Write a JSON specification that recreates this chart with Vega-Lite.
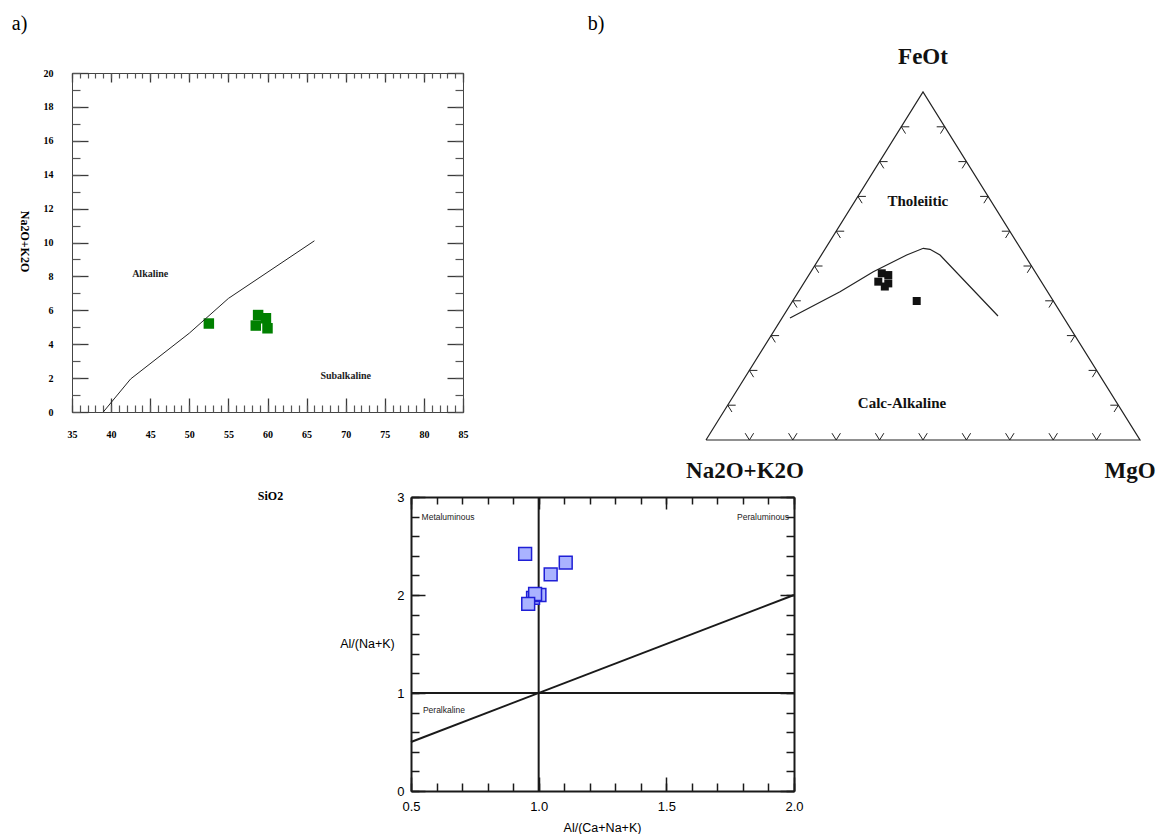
{
  "$schema": "https://vega.github.io/schema/vega-lite/v6.json",
  "width": 1162,
  "height": 834,
  "autosize": {"type": "none"},
  "padding": 0,
  "background": "white",
  "config": {"view": {"stroke": null}, "axis": {"grid": false}},
  "datasets": {
    "tasPoints": [
      {"SiO2": 52.5, "alkali": 5.22},
      {"SiO2": 58.8, "alkali": 5.72},
      {"SiO2": 59.8, "alkali": 5.53},
      {"SiO2": 58.5, "alkali": 5.1},
      {"SiO2": 60.0, "alkali": 4.94}
    ],
    "tasLine": [
      {"i": 0, "SiO2": 39.0, "alkali": 0.0},
      {"i": 1, "SiO2": 42.5, "alkali": 1.95},
      {"i": 2, "SiO2": 50.0, "alkali": 4.65},
      {"i": 3, "SiO2": 55.0, "alkali": 6.7},
      {"i": 4, "SiO2": 66.0, "alkali": 10.1}
    ],
    "tasAlkaline": [{"SiO2": 45.0, "alkali": 8.15, "label": "Alkaline"}],
    "tasSubalkaline": [{"SiO2": 70.0, "alkali": 2.1, "label": "Subalkaline"}],
    "panelA": [{"SiO2": 28.3, "alkali": 22.9, "label": "a)"}],
    "afmTriangle": [
      {"i": 0, "x": 0, "y": 0},
      {"i": 1, "x": 1, "y": 0},
      {"i": 2, "x": 0.5, "y": 1},
      {"i": 3, "x": 0, "y": 0}
    ],
    "afmCurve": [
      {"i": 0, "x": 0.1935, "y": 0.3506},
      {"i": 1, "x": 0.3088, "y": 0.4261},
      {"i": 2, "x": 0.3855, "y": 0.4836},
      {"i": 3, "x": 0.4624, "y": 0.5316},
      {"i": 4, "x": 0.5007, "y": 0.5509},
      {"i": 5, "x": 0.5161, "y": 0.548},
      {"i": 6, "x": 0.5392, "y": 0.5316},
      {"i": 7, "x": 0.6728, "y": 0.3563}
    ],
    "afmTicks": [
      {"x": 0.1, "y": 0, "side": "base"},
      {"x": 0.2, "y": 0, "side": "base"},
      {"x": 0.3, "y": 0, "side": "base"},
      {"x": 0.4, "y": 0, "side": "base"},
      {"x": 0.5, "y": 0, "side": "base"},
      {"x": 0.6, "y": 0, "side": "base"},
      {"x": 0.7, "y": 0, "side": "base"},
      {"x": 0.8, "y": 0, "side": "base"},
      {"x": 0.9, "y": 0, "side": "base"},
      {"x": 0.05, "y": 0.1, "side": "left"},
      {"x": 0.1, "y": 0.2, "side": "left"},
      {"x": 0.15, "y": 0.3, "side": "left"},
      {"x": 0.2, "y": 0.4, "side": "left"},
      {"x": 0.25, "y": 0.5, "side": "left"},
      {"x": 0.3, "y": 0.6, "side": "left"},
      {"x": 0.35, "y": 0.7, "side": "left"},
      {"x": 0.4, "y": 0.8, "side": "left"},
      {"x": 0.45, "y": 0.9, "side": "left"},
      {"x": 0.95, "y": 0.1, "side": "right"},
      {"x": 0.9, "y": 0.2, "side": "right"},
      {"x": 0.85, "y": 0.3, "side": "right"},
      {"x": 0.8, "y": 0.4, "side": "right"},
      {"x": 0.75, "y": 0.5, "side": "right"},
      {"x": 0.7, "y": 0.6, "side": "right"},
      {"x": 0.65, "y": 0.7, "side": "right"},
      {"x": 0.6, "y": 0.8, "side": "right"},
      {"x": 0.55, "y": 0.9, "side": "right"}
    ],
    "afmPoints": [
      {"x": 0.405, "y": 0.479},
      {"x": 0.42, "y": 0.474},
      {"x": 0.397, "y": 0.455},
      {"x": 0.42, "y": 0.45},
      {"x": 0.412, "y": 0.441},
      {"x": 0.4855, "y": 0.3994}
    ],
    "afmCorners": [
      {"x": 0.5, "y": 1.1, "label": "FeOt"},
      {"x": 0.09, "y": -0.089, "label": "Na2O+K2O"},
      {"x": 0.977, "y": -0.089, "label": "MgO"}
    ],
    "afmFields": [
      {"x": 0.488, "y": 0.687, "label": "Tholeiitic"},
      {"x": 0.4516, "y": 0.107, "label": "Calc-Alkaline"}
    ],
    "panelB": [{"x": -0.2535, "y": 1.195, "label": "b)"}],
    "shandPoints": [
      {"ACNK": 0.947, "ANK": 2.42},
      {"ACNK": 1.106, "ANK": 2.33},
      {"ACNK": 1.047, "ANK": 2.21},
      {"ACNK": 0.978, "ANK": 1.97},
      {"ACNK": 1.003, "ANK": 2.0},
      {"ACNK": 0.986, "ANK": 2.01},
      {"ACNK": 0.959, "ANK": 1.91}
    ],
    "shandLines": [
      {"x1": 1.0, "x2": 1.0, "y1": 0, "y2": 3},
      {"x1": 0.5, "x2": 2.0, "y1": 1, "y2": 1},
      {"x1": 0.5, "x2": 2.0, "y1": 0.5, "y2": 2.0}
    ],
    "shandMeta": [{"ACNK": 0.645, "ANK": 2.8, "label": "Metaluminous"}],
    "shandPera": [{"ACNK": 1.879, "ANK": 2.8, "label": "Peraluminous"}],
    "shandPerk": [{"ACNK": 0.629, "ANK": 0.83, "label": "Peralkaline"}]
  },
  "resolve": {
    "scale": {"x": "independent", "y": "independent", "shape": "independent"},
    "axis": {"x": "independent", "y": "independent"}
  },
  "layer": [
    {
      "data": {"name": "tasPoints"},
      "mark": {"type": "point", "shape": "square", "filled": true, "color": "#008000", "size": 110, "opacity": 1},
      "encoding": {
        "x": {
          "field": "SiO2", "type": "quantitative",
          "scale": {"domain": [35, 85], "range": [72, 463], "nice": false, "zero": false},
          "axis": {
            "orient": "bottom", "offset": -422, "values": [35, 40, 45, 50, 55, 60, 65, 70, 75, 80, 85],
            "ticks": false, "domain": true, "domainColor": "#444", "domainWidth": 1,
            "labelFont": "Liberation Serif", "labelFontWeight": "bold", "labelFontSize": 10, "labelColor": "#000",
            "labelPadding": 17, "labelFlush": false, "labelOverlap": false,
            "title": "SiO2", "titleFont": "Liberation Serif", "titleFontWeight": "bold", "titleFontSize": 12, "titleColor": "#000",
            "titleX": 270, "titleY": 83, "titleAlign": "center", "titleBaseline": "middle"
          }
        },
        "y": {
          "field": "alkali", "type": "quantitative",
          "scale": {"domain": [0, 20], "range": [412, 73], "nice": false, "zero": false},
          "axis": {
            "orient": "left", "offset": -72, "values": [0, 2, 4, 6, 8, 10, 12, 14, 16, 18, 20],
            "ticks": false, "domain": true, "domainColor": "#444", "domainWidth": 1,
            "labelFont": "Liberation Serif", "labelFontWeight": "bold", "labelFontSize": 10, "labelColor": "#000",
            "labelPadding": 19, "labelFlush": false, "labelOverlap": false,
            "title": "Na2O+K2O", "titleFont": "Liberation Serif", "titleFontWeight": "bold", "titleFontSize": 12, "titleColor": "#000",
            "titleAngle": 90, "titleX": -48, "titleY": 241, "titleAlign": "center", "titleBaseline": "middle"
          }
        }
      }
    },
    {
      "data": {"name": "tasLine"},
      "mark": {"type": "line", "color": "#222", "strokeWidth": 1},
      "encoding": {
        "x": {
          "field": "SiO2", "type": "quantitative",
          "scale": {"domain": [35, 85], "range": [72, 463], "nice": false, "zero": false},
          "axis": {
            "orient": "top", "offset": -412, "values": [35, 40, 45, 50, 55, 60, 65, 70, 75, 80, 85],
            "labels": false, "domain": false, "title": null, "tickColor": "#3a3a3a", "tickWidth": 1.3, "tickSize": 14
          }
        },
        "y": {
          "field": "alkali", "type": "quantitative",
          "scale": {"domain": [0, 20], "range": [412, 73], "nice": false, "zero": false},
          "axis": {
            "orient": "right", "offset": -1090, "values": [0, 2, 4, 6, 8, 10, 12, 14, 16, 18, 20],
            "labels": false, "domain": false, "title": null, "tickColor": "#3a3a3a", "tickWidth": 1.3, "tickSize": 16
          }
        },
        "order": {"field": "i", "type": "quantitative"}
      }
    },
    {
      "data": {"name": "tasAlkaline"},
      "mark": {"type": "text", "font": "Liberation Serif", "fontWeight": "bold", "fontSize": 10, "color": "#222"},
      "encoding": {
        "x": {
          "field": "SiO2", "type": "quantitative",
          "scale": {"domain": [35, 85], "range": [72, 463], "nice": false, "zero": false},
          "axis": {
            "orient": "top", "offset": -412,
            "values": [35,36,37,38,39,40,41,42,43,44,45,46,47,48,49,50,51,52,53,54,55,56,57,58,59,60,61,62,63,64,65,66,67,68,69,70,71,72,73,74,75,76,77,78,79,80,81,82,83,84,85],
            "labels": false, "domain": false, "title": null, "tickColor": "#555", "tickWidth": 1.2, "tickSize": 7
          }
        },
        "y": {
          "field": "alkali", "type": "quantitative",
          "scale": {"domain": [0, 20], "range": [412, 73], "nice": false, "zero": false},
          "axis": {
            "orient": "right", "offset": -1090,
            "values": [0,1,2,3,4,5,6,7,8,9,10,11,12,13,14,15,16,17,18,19,20],
            "labels": false, "domain": false, "title": null, "tickColor": "#555", "tickWidth": 1.2, "tickSize": 8
          }
        },
        "text": {"field": "label", "type": "nominal"}
      }
    },
    {
      "data": {"name": "tasSubalkaline"},
      "mark": {"type": "text", "font": "Liberation Serif", "fontWeight": "bold", "fontSize": 10, "color": "#222"},
      "encoding": {
        "x": {
          "field": "SiO2", "type": "quantitative",
          "scale": {"domain": [35, 85], "range": [72, 463], "nice": false, "zero": false},
          "axis": {
            "orient": "bottom", "offset": -761, "values": [35, 40, 45, 50, 55, 60, 65, 70, 75, 80, 85],
            "labels": false, "domain": true, "domainColor": "#444", "domainWidth": 1, "title": null, "tickColor": "#3a3a3a", "tickWidth": 1.3, "tickSize": 9
          }
        },
        "y": {
          "field": "alkali", "type": "quantitative",
          "scale": {"domain": [0, 20], "range": [412, 73], "nice": false, "zero": false},
          "axis": {
            "orient": "left", "offset": -463, "values": [0, 2, 4, 6, 8, 10, 12, 14, 16, 18, 20],
            "labels": false, "domain": true, "domainColor": "#444", "domainWidth": 1, "title": null, "tickColor": "#3a3a3a", "tickWidth": 1.3, "tickSize": 16
          }
        },
        "text": {"field": "label", "type": "nominal"}
      }
    },
    {
      "data": {"name": "panelA"},
      "mark": {"type": "text", "font": "Liberation Serif", "fontSize": 20, "color": "#000"},
      "encoding": {
        "x": {
          "field": "SiO2", "type": "quantitative",
          "scale": {"domain": [35, 85], "range": [72, 463], "nice": false, "zero": false},
          "axis": {
            "orient": "bottom", "offset": -761,
            "values": [35,36,37,38,39,40,41,42,43,44,45,46,47,48,49,50,51,52,53,54,55,56,57,58,59,60,61,62,63,64,65,66,67,68,69,70,71,72,73,74,75,76,77,78,79,80,81,82,83,84,85],
            "labels": false, "domain": false, "title": null, "tickColor": "#555", "tickWidth": 1.2, "tickSize": 5
          }
        },
        "y": {
          "field": "alkali", "type": "quantitative",
          "scale": {"domain": [0, 20], "range": [412, 73], "nice": false, "zero": false},
          "axis": {
            "orient": "left", "offset": -463,
            "values": [0,1,2,3,4,5,6,7,8,9,10,11,12,13,14,15,16,17,18,19,20],
            "labels": false, "domain": false, "title": null, "tickColor": "#555", "tickWidth": 1.2, "tickSize": 8
          }
        },
        "text": {"field": "label", "type": "nominal"}
      }
    },
    {
      "data": {"name": "afmTriangle"},
      "mark": {"type": "line", "color": "#222", "strokeWidth": 1.2},
      "encoding": {
        "x": {"field": "x", "type": "quantitative", "scale": {"domain": [0, 1], "range": [706, 1140], "nice": false, "zero": false}, "axis": null},
        "y": {"field": "y", "type": "quantitative", "scale": {"domain": [0, 1], "range": [440, 92], "nice": false, "zero": false}, "axis": null},
        "order": {"field": "i", "type": "quantitative"}
      }
    },
    {
      "data": {"name": "afmCurve"},
      "mark": {"type": "line", "color": "#222", "strokeWidth": 1.2},
      "encoding": {
        "x": {"field": "x", "type": "quantitative", "scale": {"domain": [0, 1], "range": [706, 1140], "nice": false, "zero": false}, "axis": null},
        "y": {"field": "y", "type": "quantitative", "scale": {"domain": [0, 1], "range": [440, 92], "nice": false, "zero": false}, "axis": null},
        "order": {"field": "i", "type": "quantitative"}
      }
    },
    {
      "data": {"name": "afmTicks"},
      "mark": {"type": "point", "filled": false, "stroke": "#222", "strokeWidth": 1, "size": 256, "opacity": 1},
      "encoding": {
        "x": {"field": "x", "type": "quantitative", "scale": {"domain": [0, 1], "range": [706, 1140], "nice": false, "zero": false}, "axis": null},
        "y": {"field": "y", "type": "quantitative", "scale": {"domain": [0, 1], "range": [440, 92], "nice": false, "zero": false}, "axis": null},
        "shape": {
          "field": "side", "type": "nominal", "legend": null,
          "scale": {"domain": ["base", "left", "right"], "range": ["M-0.53,-0.85L0,0L0.53,-0.85", "M1,0L0,0L0.53,0.85", "M-1,0L0,0L-0.53,0.85"]}
        }
      }
    },
    {
      "data": {"name": "afmPoints"},
      "mark": {"type": "point", "shape": "square", "filled": true, "color": "#111", "size": 64, "opacity": 1},
      "encoding": {
        "x": {"field": "x", "type": "quantitative", "scale": {"domain": [0, 1], "range": [706, 1140], "nice": false, "zero": false}, "axis": null},
        "y": {"field": "y", "type": "quantitative", "scale": {"domain": [0, 1], "range": [440, 92], "nice": false, "zero": false}, "axis": null}
      }
    },
    {
      "data": {"name": "afmCorners"},
      "mark": {"type": "text", "font": "Liberation Serif", "fontWeight": "bold", "fontSize": 23, "color": "#111"},
      "encoding": {
        "x": {"field": "x", "type": "quantitative", "scale": {"domain": [0, 1], "range": [706, 1140], "nice": false, "zero": false}, "axis": null},
        "y": {"field": "y", "type": "quantitative", "scale": {"domain": [0, 1], "range": [440, 92], "nice": false, "zero": false}, "axis": null},
        "text": {"field": "label", "type": "nominal"}
      }
    },
    {
      "data": {"name": "afmFields"},
      "mark": {"type": "text", "font": "Liberation Serif", "fontWeight": "bold", "fontSize": 15, "color": "#111"},
      "encoding": {
        "x": {"field": "x", "type": "quantitative", "scale": {"domain": [0, 1], "range": [706, 1140], "nice": false, "zero": false}, "axis": null},
        "y": {"field": "y", "type": "quantitative", "scale": {"domain": [0, 1], "range": [440, 92], "nice": false, "zero": false}, "axis": null},
        "text": {"field": "label", "type": "nominal"}
      }
    },
    {
      "data": {"name": "panelB"},
      "mark": {"type": "text", "font": "Liberation Serif", "fontSize": 20, "color": "#000"},
      "encoding": {
        "x": {"field": "x", "type": "quantitative", "scale": {"domain": [0, 1], "range": [706, 1140], "nice": false, "zero": false}, "axis": null},
        "y": {"field": "y", "type": "quantitative", "scale": {"domain": [0, 1], "range": [440, 92], "nice": false, "zero": false}, "axis": null},
        "text": {"field": "label", "type": "nominal"}
      }
    },
    {
      "data": {"name": "shandLines"},
      "mark": {"type": "rule", "color": "#1a1a1a", "strokeWidth": 2},
      "encoding": {
        "x": {
          "field": "x1", "type": "quantitative",
          "scale": {"domain": [0.5, 2.0], "range": [411, 794], "nice": false, "zero": false},
          "axis": {
            "orient": "top", "offset": -791, "values": [0.5, 1.0, 1.5, 2.0],
            "labels": false, "domain": false, "title": null, "tickColor": "#1a1a1a", "tickWidth": 1.5, "tickSize": 14
          }
        },
        "x2": {"field": "x2"},
        "y": {
          "field": "y1", "type": "quantitative",
          "scale": {"domain": [0, 3], "range": [791, 497], "nice": false, "zero": false},
          "axis": {
            "orient": "right", "offset": -751, "values": [0, 1, 2, 3],
            "labels": false, "domain": false, "title": null, "tickColor": "#1a1a1a", "tickWidth": 1.5, "tickSize": 14
          }
        },
        "y2": {"field": "y2"}
      }
    },
    {
      "data": {"name": "shandMeta"},
      "mark": {"type": "text", "font": "Liberation Sans", "fontSize": 8.5, "color": "#222"},
      "encoding": {
        "x": {
          "field": "ACNK", "type": "quantitative",
          "scale": {"domain": [0.5, 2.0], "range": [411, 794], "nice": false, "zero": false},
          "axis": {
            "orient": "top", "offset": -791,
            "values": [0.5,0.6,0.7,0.8,0.9,1.0,1.1,1.2,1.3,1.4,1.5,1.6,1.7,1.8,1.9,2.0],
            "labels": false, "domain": false, "title": null, "tickColor": "#1a1a1a", "tickWidth": 1.5, "tickSize": 8
          }
        },
        "y": {
          "field": "ANK", "type": "quantitative",
          "scale": {"domain": [0, 3], "range": [791, 497], "nice": false, "zero": false},
          "axis": {
            "orient": "right", "offset": -751,
            "values": [0,0.2,0.4,0.6,0.8,1,1.2,1.4,1.6,1.8,2,2.2,2.4,2.6,2.8,3],
            "labels": false, "domain": false, "title": null, "tickColor": "#1a1a1a", "tickWidth": 1.5, "tickSize": 8
          }
        },
        "text": {"field": "label", "type": "nominal"}
      }
    },
    {
      "data": {"name": "shandPera"},
      "mark": {"type": "text", "font": "Liberation Sans", "fontSize": 8.5, "color": "#222"},
      "encoding": {
        "x": {
          "field": "ACNK", "type": "quantitative",
          "scale": {"domain": [0.5, 2.0], "range": [411, 794], "nice": false, "zero": false},
          "axis": {
            "orient": "bottom", "offset": -337, "values": [0.5, 1.0, 1.5, 2.0],
            "labels": false, "domain": true, "domainColor": "#1a1a1a", "domainWidth": 2, "title": null, "tickColor": "#1a1a1a", "tickWidth": 1.5, "tickSize": 12
          }
        },
        "y": {
          "field": "ANK", "type": "quantitative",
          "scale": {"domain": [0, 3], "range": [791, 497], "nice": false, "zero": false},
          "axis": {
            "orient": "left", "offset": -794, "values": [0, 1, 2, 3],
            "labels": false, "domain": true, "domainColor": "#1a1a1a", "domainWidth": 2, "title": null, "tickColor": "#1a1a1a", "tickWidth": 1.5, "tickSize": 14
          }
        },
        "text": {"field": "label", "type": "nominal"}
      }
    },
    {
      "data": {"name": "shandPerk"},
      "mark": {"type": "text", "font": "Liberation Sans", "fontSize": 8.5, "color": "#222"},
      "encoding": {
        "x": {
          "field": "ACNK", "type": "quantitative",
          "scale": {"domain": [0.5, 2.0], "range": [411, 794], "nice": false, "zero": false},
          "axis": {
            "orient": "bottom", "offset": -337,
            "values": [0.5,0.6,0.7,0.8,0.9,1.0,1.1,1.2,1.3,1.4,1.5,1.6,1.7,1.8,1.9,2.0],
            "labels": false, "domain": false, "title": null, "tickColor": "#1a1a1a", "tickWidth": 1.5, "tickSize": 7
          }
        },
        "y": {
          "field": "ANK", "type": "quantitative",
          "scale": {"domain": [0, 3], "range": [791, 497], "nice": false, "zero": false},
          "axis": {
            "orient": "left", "offset": -794,
            "values": [0,0.2,0.4,0.6,0.8,1,1.2,1.4,1.6,1.8,2,2.2,2.4,2.6,2.8,3],
            "labels": false, "domain": false, "title": null, "tickColor": "#1a1a1a", "tickWidth": 1.5, "tickSize": 8
          }
        },
        "text": {"field": "label", "type": "nominal"}
      }
    },
    {
      "data": {"name": "shandPoints"},
      "mark": {"type": "point", "shape": "square", "filled": true, "fill": "#aab3ff", "stroke": "#1f1fd6", "strokeWidth": 1.5, "size": 165, "opacity": 1},
      "encoding": {
        "x": {
          "field": "ACNK", "type": "quantitative",
          "scale": {"domain": [0.5, 2.0], "range": [411, 794], "nice": false, "zero": false},
          "axis": {
            "orient": "bottom", "offset": -43, "values": [0.5, 1.0, 1.5, 2.0], "format": ".1f",
            "ticks": false, "domain": true, "domainColor": "#1a1a1a", "domainWidth": 2,
            "labelFont": "Liberation Sans", "labelFontSize": 13, "labelColor": "#000", "labelPadding": 9,
            "labelFlush": false, "labelOverlap": false,
            "title": "Al/(Ca+Na+K)", "titleFont": "Liberation Sans", "titleFontWeight": "normal", "titleFontSize": 12.5, "titleColor": "#000",
            "titleX": 602, "titleY": 36, "titleAlign": "center", "titleBaseline": "middle"
          }
        },
        "y": {
          "field": "ANK", "type": "quantitative",
          "scale": {"domain": [0, 3], "range": [791, 497], "nice": false, "zero": false},
          "axis": {
            "orient": "left", "offset": -411, "values": [0, 1, 2, 3], "format": "d",
            "ticks": false, "domain": true, "domainColor": "#1a1a1a", "domainWidth": 2,
            "labelFont": "Liberation Sans", "labelFontSize": 13, "labelColor": "#000", "labelPadding": 7,
            "labelFlush": false, "labelOverlap": false,
            "title": "Al/(Na+K)", "titleFont": "Liberation Sans", "titleFontWeight": "normal", "titleFontSize": 12.5, "titleColor": "#000",
            "titleAngle": 0, "titleX": -44, "titleY": 643, "titleAlign": "center", "titleBaseline": "middle"
          }
        }
      }
    }
  ]
}
